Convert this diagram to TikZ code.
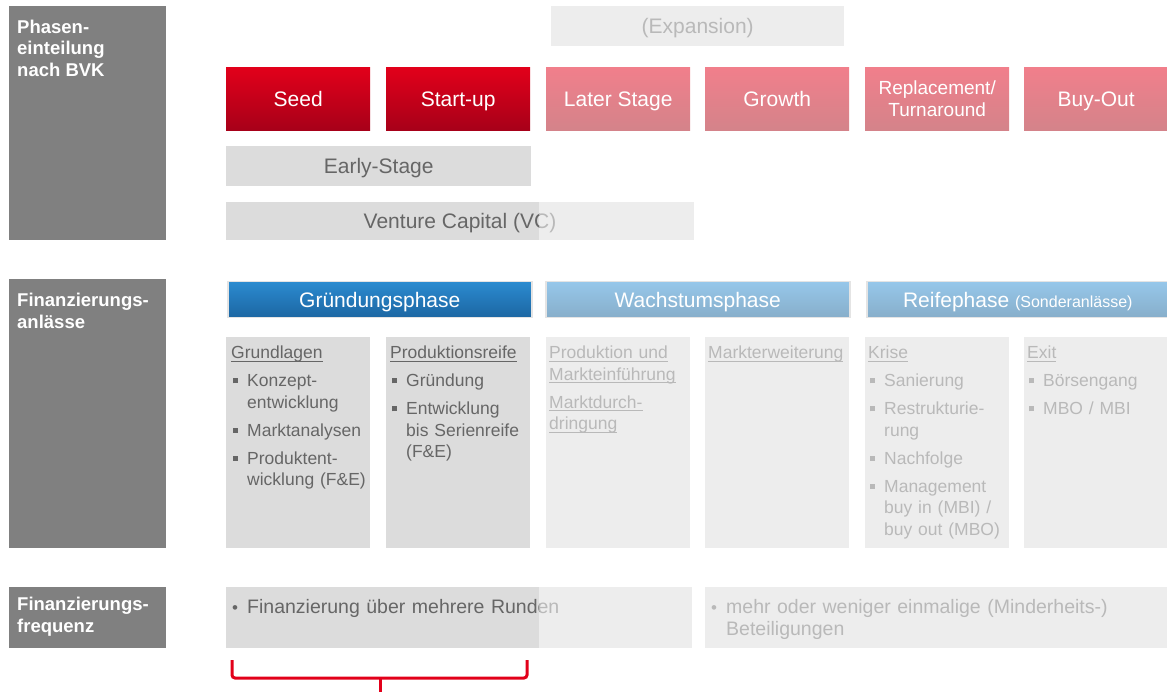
\documentclass[tikz,border=0pt]{standalone}
\usepackage{fontspec}
\setmainfont{Liberation Sans}
\usepackage{xcolor}
\usepackage{tikz}
\usetikzlibrary{positioning}

\definecolor{labelgray}{HTML}{808080}
\definecolor{boxdark}{HTML}{DCDCDC}
\definecolor{boxlight}{HTML}{EDEDED}
\definecolor{txtdark}{HTML}{666666}
\definecolor{txtlight}{HTML}{B9B9B9}
\definecolor{redtop}{HTML}{E2001A}
\definecolor{redbot}{HTML}{A70019}
\definecolor{pinktop}{HTML}{F17F8B}
\definecolor{pinkbot}{HTML}{D4838A}
\definecolor{bluetop}{HTML}{2B8BD0}
\definecolor{bluebot}{HTML}{1C66A2}
\definecolor{lbluetop}{HTML}{96C7EA}
\definecolor{lbluebot}{HTML}{87AECA}
\definecolor{hdrline}{HTML}{E4E4E4}
\definecolor{bracketred}{HTML}{E2001A}

\newsavebox{\ulsave}
\newcommand{\ulbox}[1]{\sbox\ulsave{#1}\rlap{\rule[-3pt]{\wd\ulsave}{1.1pt}}\usebox\ulsave}
\newcommand{\sqitem}[1]{\par\vspace{6.5pt}\noindent
  \makebox[16pt][l]{\hspace{2pt}\raisebox{3.5pt}{\rule{5pt}{5pt}}}#1}
\newcommand{\sqcont}[1]{\par\noindent\hspace*{16pt}#1}
\newcommand{\dotitem}{\makebox[16pt][l]{\hspace{1pt}{\fontsize{17}{17}\selectfont\textbullet}}}

\begin{document}
\begin{tikzpicture}[x=1pt, y=-1pt,
  oneline/.style={text height=15pt, text depth=0pt},
  sidebox/.style={fill=labelgray, anchor=north west, minimum width=157pt, inner sep=0pt},
  sidetext/.style={text=white, align=left, inner sep=0pt, font=\bfseries\fontsize{18.5}{21.5}\selectfont},
  redbase/.style={anchor=north west, minimum width=144pt, minimum height=63pt, inner sep=0pt,
    top color=redtop, bottom color=redbot, text=white, align=center, font=\fontsize{21}{22}\selectfont},
  redbox/.style={redbase, oneline},
  pinkbase/.style={redbase, top color=pinktop, bottom color=pinkbot},
  pinkbox/.style={pinkbase, oneline},
  band/.style={anchor=north west, inner sep=0pt, font=\fontsize{21}{22}\selectfont},
  hdr/.style={anchor=north west, minimum height=36pt, inner sep=0pt, draw=hdrline, line width=1.5pt,
    text=white, oneline, font=\fontsize{21}{22}\selectfont},
  darkhdr/.style={hdr, top color=bluetop, bottom color=bluebot},
  lighthdr/.style={hdr, top color=lbluetop, bottom color=lbluebot},
  cell/.style={anchor=north west, minimum width=144pt, minimum height=211pt, inner sep=0pt},
  celltext/.style={text width=150pt, align=left, inner sep=0pt, font=\fontsize{17.5}{21.5}\selectfont},
  freqtext/.style={anchor=north west, text width=470pt, align=left, inner sep=0pt, font=\fontsize{19.5}{22.5}\selectfont},
  bracket/.style={draw=bracketred, line width=3pt, rounded corners=3pt}
]
\useasboundingbox (0,0) rectangle (1167,692);

% Left column labels
\node[sidebox, minimum height=234pt] (phasen) at (9,6) {};
\node[sidetext, below right=13.5pt and 8pt of phasen.north west] (phasenT) {Phasen-\\einteilung\\nach BVK};
\node[sidebox, minimum height=269pt] (anlass) at (9,279) {};
\node[sidetext, below right=14pt and 8pt of anlass.north west] (anlassT) {Finanzierungs-\\anlässe};
\node[sidebox, minimum height=61pt] (freq) at (9,587) {};
\node[sidetext, below right=10pt and 8pt of freq.north west] (freqT) {Finanzierungs-\\frequenz};

% Phases after BVK
\node[band, oneline, fill=boxlight, text=txtlight, minimum width=293pt, minimum height=40pt] (expansion) at (551,6) {(Expansion)};
\node[redbox] (seed) at (226,67) {Seed};
\node[redbox] (startup) at (386,67) {Start-up};
\node[pinkbox] (later) at (546,67) {Later Stage};
\node[pinkbox] (growth) at (705,67) {Growth};
\node[pinkbase, font=\fontsize{19}{22}\selectfont] (replace) at (865,67) {Replacement/\\Turnaround};
\node[pinkbox] (buyout) at (1024,67) {Buy-Out};
\node[band, oneline, fill=boxdark, text=txtdark, minimum width=305pt, minimum height=40pt] (early) at (226,146) {Early-Stage};

% Venture Capital band, half faded
\node[band, fill=boxdark, minimum width=313pt, minimum height=38pt] (vcdark) at (226,202) {};
\node[band, fill=boxlight, minimum width=155pt, minimum height=38pt] (vclight) at (539,202) {};
\begin{scope}
\clip (vcdark.north west) rectangle (vcdark.south east);
\node[oneline, font=\fontsize{21}{22}\selectfont, text=txtdark] (vcA) at (460,221) {Venture Capital (VC)};
\end{scope}
\begin{scope}
\clip (vclight.north west) rectangle (vclight.south east);
\node[oneline, font=\fontsize{21}{22}\selectfont, text=txtlight] (vcB) at (460,221) {Venture Capital (VC)};
\end{scope}

% Financing occasions
\node[darkhdr, minimum width=304pt] (gruend) at (227,281) {Gründungsphase};
\node[lighthdr, minimum width=304pt] (wachs) at (545,281) {Wachstumsphase};
\node[lighthdr, minimum width=302pt] (reif) at (866,281) {Reifephase {\fontsize{16}{16}\selectfont(Sonderanlässe)}};

\node[cell, fill=boxdark] (grund) at (226,337) {};
\node[celltext, text=txtdark, below right=9pt and 5pt of grund.north west] (grundT)
  {\ulbox{Grundlagen}\sqitem{Konzept-}\sqcont{entwicklung}\sqitem{Marktanalysen}\sqitem{Produktent-}\sqcont{wicklung (F\&E)}};
\node[cell, fill=boxdark] (prodreif) at (386,337) {};
\node[celltext, text=txtdark, below right=9pt and 4pt of prodreif.north west] (prodreifT)
  {\ulbox{Produktionsreife}\sqitem{Gründung}\sqitem{Entwicklung}\sqcont{bis Serienreife}\sqcont{(F\&E)}};
\node[cell, fill=boxlight] (markt) at (546,337) {};
\node[celltext, text=txtlight, below right=9pt and 3pt of markt.north west] (marktT)
  {\ulbox{Produktion und}\newline\ulbox{Markteinführung}\par\vspace{6.5pt}\noindent\ulbox{Marktdurch-}\newline\ulbox{dringung}};
\node[cell, fill=boxlight] (erweit) at (705,337) {};
\node[celltext, text=txtlight, below right=9pt and 3pt of erweit.north west] (erweitT) {\ulbox{Markterweiterung}};
\node[cell, fill=boxlight] (krise) at (865,337) {};
\node[celltext, text=txtlight, below right=9pt and 3pt of krise.north west] (kriseT)
  {\ulbox{Krise}\sqitem{Sanierung}\sqitem{Restrukturie-}\sqcont{rung}\sqitem{Nachfolge}\sqitem{Management}\sqcont{buy in (MBI) /}\sqcont{buy out (MBO)}};
\node[cell, fill=boxlight] (exit) at (1024,337) {};
\node[celltext, text=txtlight, below right=9pt and 3pt of exit.north west] (exitT)
  {\ulbox{Exit}\sqitem{Börsengang}\sqitem{MBO / MBI}};

% Financing frequency
\node[band, fill=boxdark, minimum width=313pt, minimum height=61pt] (rundark) at (226,587) {};
\node[band, fill=boxlight, minimum width=153pt, minimum height=61pt] (runlight) at (539,587) {};
\begin{scope}
\clip (rundark.north west) rectangle (rundark.south east);
\node[freqtext, text=txtdark] (runA) at (231,599) {\dotitem Finanzierung über mehrere Runden};
\end{scope}
\begin{scope}
\clip (runlight.north west) rectangle (runlight.south east);
\node[freqtext, text=txtlight] (runB) at (231,599) {\dotitem Finanzierung über mehrere Runden};
\end{scope}
\node[band, fill=boxlight, minimum width=463pt, minimum height=61pt] (einmal) at (705,587) {};
\node[freqtext, text=txtlight, below right=12pt and 5pt of einmal.north west] (einmalT)
  {\noindent\dotitem mehr oder weniger einmalige (Minderheits-)\sqcont{Beteiligungen}};

% Bracket
\draw[bracket] (232,660) -- (232,678) -- (527,678) -- (527,660);
\draw[bracket] (380,678) -- (380,692);
\end{tikzpicture}
\end{document}
